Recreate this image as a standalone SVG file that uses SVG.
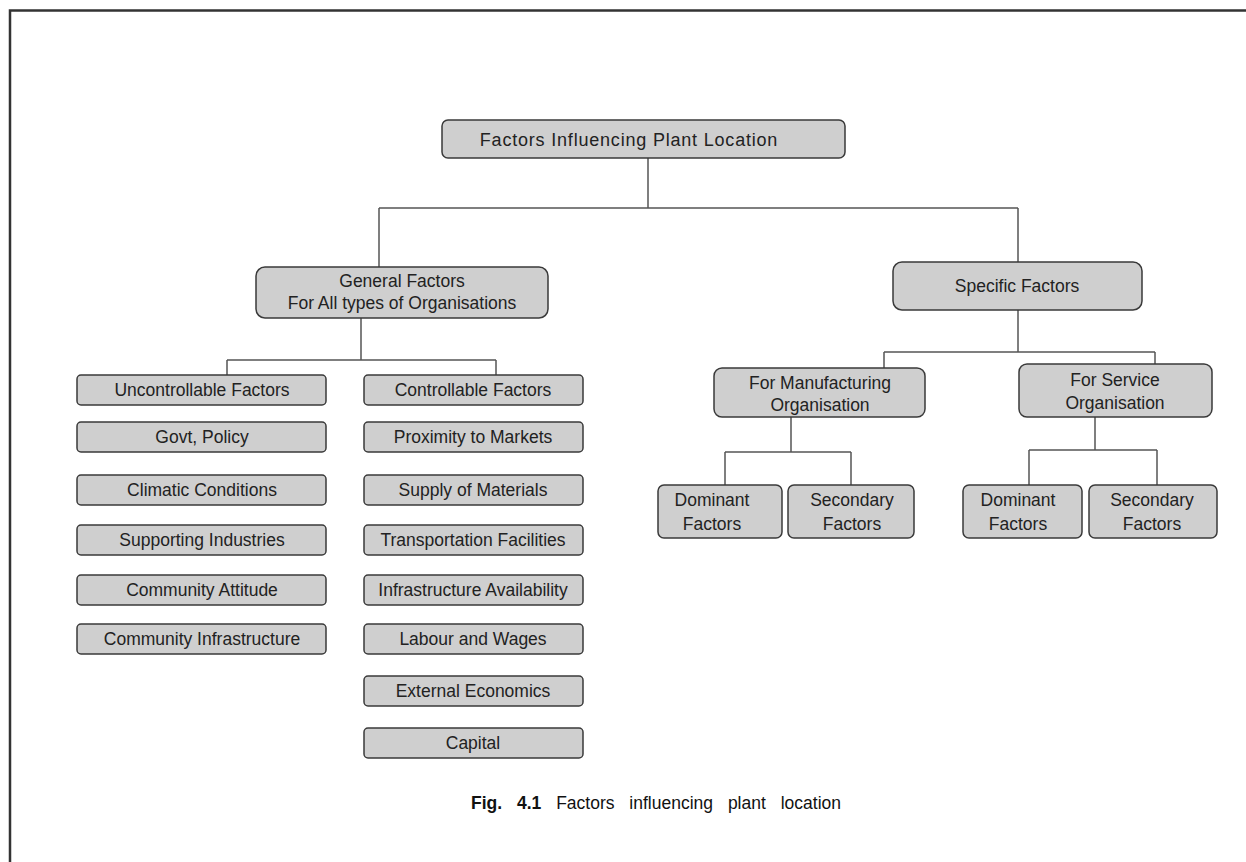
<svg xmlns="http://www.w3.org/2000/svg" width="1246" height="862" viewBox="0 0 1246 862">
<style>
.box{fill:#cfcfcf;stroke:#3a3a3a;stroke-width:1.5}
.t{font-family:"Liberation Sans",Arial,sans-serif;font-size:17.5px;fill:#222;text-anchor:middle}
.c{fill:none;stroke:#555;stroke-width:1.5}
.cap{font-family:"Liberation Sans",Arial,sans-serif;font-size:17.5px;fill:#111;text-anchor:middle}
</style>
<rect x="0" y="0" width="1246" height="862" fill="#fff"/>
<path d="M10 862 V10.5 H1246" fill="none" stroke="#333" stroke-width="2.5"/>
<g id="connectors" class="c">
<path d="M648 158 V208 M379 208 H1018 M379 208 V267 M1018 208 V262"/>
<path d="M361 318 V360 M227 360 H496 M227 360 V375 M496 360 V375"/>
<path d="M1018 310 V352 M884 352 H1155 M884 352 V368 M1155 352 V364"/>
<path d="M791 417 V452 M725 452 H851 M725 452 V485 M851 452 V485"/>
<path d="M1095 417 V450 M1029 450 H1157 M1029 450 V485 M1157 450 V485"/>
</g>
<g id="root"><rect class="box" x="442" y="120" width="403" height="38" rx="6"/><text class="t" x="629" y="146" style="font-size:18px;letter-spacing:0.8px">Factors Influencing Plant Location</text></g>
<g id="general"><rect class="box" x="256" y="267" width="292" height="51" rx="9"/><text class="t" x="402" y="287">General Factors</text><text class="t" x="402" y="309">For All types of Organisations</text></g>
<g id="specific"><rect class="box" x="893" y="262" width="249" height="48" rx="9"/><text class="t" x="1017" y="292">Specific Factors</text></g>
<g id="uncontrollable"><rect class="box" x="77" y="375" width="249" height="30" rx="4"/><text class="t" x="202" y="396">Uncontrollable Factors</text></g>
<g id="govt"><rect class="box" x="77" y="422" width="249" height="30" rx="4"/><text class="t" x="202" y="443">Govt, Policy</text></g>
<g id="climatic"><rect class="box" x="77" y="475" width="249" height="30" rx="4"/><text class="t" x="202" y="496">Climatic Conditions</text></g>
<g id="supporting"><rect class="box" x="77" y="525" width="249" height="30" rx="4"/><text class="t" x="202" y="546">Supporting Industries</text></g>
<g id="attitude"><rect class="box" x="77" y="575" width="249" height="30" rx="4"/><text class="t" x="202" y="596">Community Attitude</text></g>
<g id="cinfra"><rect class="box" x="77" y="624" width="249" height="30" rx="4"/><text class="t" x="202" y="645">Community Infrastructure</text></g>
<g id="controllable"><rect class="box" x="364" y="375" width="219" height="30" rx="4"/><text class="t" x="473" y="396">Controllable Factors</text></g>
<g id="proximity"><rect class="box" x="364" y="422" width="219" height="30" rx="4"/><text class="t" x="473" y="443">Proximity to Markets</text></g>
<g id="supply"><rect class="box" x="364" y="475" width="219" height="30" rx="4"/><text class="t" x="473" y="496">Supply of Materials</text></g>
<g id="transport"><rect class="box" x="364" y="525" width="219" height="30" rx="4"/><text class="t" x="473" y="546">Transportation Facilities</text></g>
<g id="infra"><rect class="box" x="364" y="575" width="219" height="30" rx="4"/><text class="t" x="473" y="596">Infrastructure Availability</text></g>
<g id="labour"><rect class="box" x="364" y="624" width="219" height="30" rx="4"/><text class="t" x="473" y="645">Labour and Wages</text></g>
<g id="external"><rect class="box" x="364" y="676" width="219" height="30" rx="4"/><text class="t" x="473" y="697">External Economics</text></g>
<g id="capital"><rect class="box" x="364" y="728" width="219" height="30" rx="4"/><text class="t" x="473" y="749">Capital</text></g>
<g id="manufacturing"><rect class="box" x="714" y="368" width="211" height="49" rx="8"/><text class="t" x="820" y="389">For Manufacturing</text><text class="t" x="820" y="411">Organisation</text></g>
<g id="service"><rect class="box" x="1019" y="364" width="193" height="53" rx="8"/><text class="t" x="1115" y="386">For Service</text><text class="t" x="1115" y="409">Organisation</text></g>
<g id="mdominant"><rect class="box" x="658" y="485" width="124" height="53" rx="6"/><text class="t" x="712" y="506">Dominant</text><text class="t" x="712" y="530">Factors</text></g>
<g id="msecondary"><rect class="box" x="788" y="485" width="126" height="53" rx="6"/><text class="t" x="852" y="506">Secondary</text><text class="t" x="852" y="530">Factors</text></g>
<g id="sdominant"><rect class="box" x="963" y="485" width="119" height="53" rx="6"/><text class="t" x="1018" y="506">Dominant</text><text class="t" x="1018" y="530">Factors</text></g>
<g id="ssecondary"><rect class="box" x="1089" y="485" width="128" height="53" rx="6"/><text class="t" x="1152" y="506">Secondary</text><text class="t" x="1152" y="530">Factors</text></g>
<text class="cap" x="656" y="809" word-spacing="10"><tspan font-weight="bold">Fig. 4.1</tspan> Factors influencing plant location</text>
</svg>
